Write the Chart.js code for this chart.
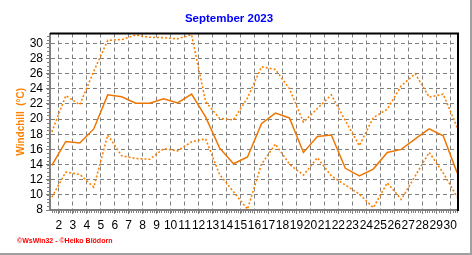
<!DOCTYPE html>
<html><head><meta charset="utf-8">
<script src="https://cdn.jsdelivr.net/npm/chart.js@4/dist/chart.umd.min.js"></script>
<style>html,body{margin:0;padding:0;background:#fff;overflow:hidden;} canvas{display:block;}</style>
</head><body><canvas id="c" width="472" height="255"></canvas>
<script>
const days = [1,2,3,4,5,6,7,8,9,10,11,12,13,14,15,16,17,18,19,20,21,22,23,24,25,26,27,28,29,30];
const maxValues  = [18.3,23.1,21.9,26.3,30.4,30.5,31.1,30.8,30.75,30.6,31.15,22.3,20.1,19.9,22.8,26.9,26.55,24.0,19.6,21.4,23.2,19.8,16.5,20.2,21.3,24.4,26.0,22.9,23.3,18.9];
const meanValues = [13.9,17.05,16.85,18.7,23.2,22.95,22.1,22.1,22.67,22.14,23.3,20.3,16.2,14.1,15.0,19.4,20.8,20.15,15.6,17.7,17.9,13.5,12.5,13.4,15.6,16.0,17.4,18.7,17.8,12.9];
const minValues  = [9.7,13.0,12.7,11.0,17.9,15.15,14.8,14.7,16.1,15.8,17.0,17.4,12.7,10.4,8.1,14.05,16.7,14.05,12.6,14.9,12.5,11.3,10.1,8.3,11.6,9.4,12.5,15.6,12.9,9.7];
const yTickLabels = [8,10,12,14,16,18,20,22,24,26,28,30];
const xTickLabels = ['2','3','4','5','6','7','8','9','10','11','12','13','14','15','16','17','18','19','20','21','22','23','24','25','26','27','28','29','30'];
const chartTitle = 'September 2023';
const yAxisTitle = 'Windchill  (°C)';
const footerText = '©WsWin32 - ©Heiko Blödorn';

const FONT = '"Liberation Sans", Arial, sans-serif';
const toPts = vals => days.map((d, i) => ({x: d, y: vals[i]}));

const decor = {
  id: 'decor',
  beforeDraw(chart) {
    const ctx = chart.ctx;
    ctx.save();
    ctx.fillStyle = '#fff';
    ctx.fillRect(0, 0, chart.width, chart.height);
    ctx.restore();
  },
  afterDraw(chart) {
    const {ctx, chartArea: a, scales: {x, y}} = chart;
    ctx.save();
    ctx.strokeStyle = '#808080';
    ctx.lineWidth = 1;
    ctx.beginPath();
    for (let k = Math.ceil((x.min + 0.5) * 6); k / 6 - 0.5 <= x.max; k++) {
      const px = Math.round(x.getPixelForValue(k / 6 - 0.5)) + 0.5;
      ctx.moveTo(px, a.bottom + 1);
      ctx.lineTo(px, a.bottom + 3);
    }
    for (let v = 8; v <= y.max; v += 0.5) {
      const py = Math.round(y.getPixelForValue(v)) + 0.5;
      ctx.moveTo(a.left - 1, py);
      ctx.lineTo(a.left - 3, py);
    }
    ctx.stroke();
    ctx.strokeStyle = '#000';
    ctx.lineWidth = 2;
    ctx.beginPath();
    ctx.moveTo(a.left, a.top);
    ctx.lineTo(a.right, a.top);
    ctx.lineTo(a.right, a.bottom + 1);
    ctx.stroke();
    ctx.fillStyle = '#FF0000';
    ctx.font = 'bold 7px ' + FONT;
    ctx.textBaseline = 'middle';
    ctx.fillText(footerText, 17, 241);
    ctx.fillStyle = '#A0A0A0';
    ctx.fillRect(470, 0, 2, 255);
    ctx.fillRect(0, 253, 472, 2);
    ctx.restore();
  }
};

new Chart(document.getElementById('c'), {
  type: 'line',
  data: {
    datasets: [
      {label: 'Max', data: toPts(maxValues), borderColor: '#FF8000', borderWidth: 1.6, borderDash: [2, 2], fill: false},
      {label: 'Mittel', data: toPts(meanValues), borderColor: '#EE7600', borderWidth: 1.5, fill: false},
      {label: 'Min', data: toPts(minValues), borderColor: '#FF8000', borderWidth: 1.6, borderDash: [2, 2], fill: false}
    ]
  },
  options: {
    responsive: false, animation: false, devicePixelRatio: 1,
    layout: {padding: {left: 0, right: 14, top: 0, bottom: 0}},
    elements: {point: {radius: 0}, line: {tension: 0}},
    plugins: {
      legend: {display: false}, tooltip: {enabled: false},
      title: {display: true, text: chartTitle, color: '#0000FF',
        font: {family: FONT, size: 11.5, weight: 'bold', lineHeight: 1.2},
        padding: {top: 12, bottom: 7.7}}
    },
    scales: {
      x: {
        type: 'linear', min: 0.87, max: 30.06,
        afterBuildTicks: s => { s.ticks = xTickLabels.map(l => ({value: Number(l) - 0.5})); },
        afterFit: s => { s.height = 45; },
        ticks: {autoSkip: false, maxRotation: 0, minRotation: 0, color: '#000', padding: 4,
          font: {family: FONT, size: 12}, callback: (v, i) => xTickLabels[i]},
        grid: {color: '#808080', lineWidth: 1, drawTicks: true, tickLength: 4, tickColor: '#808080'},
        border: {display: true, color: '#808080', width: 2, dash: [4, 3]}
      },
      y: {
        min: 8, max: 31.3,
        afterBuildTicks: s => { s.ticks = yTickLabels.map(v => ({value: v})); },
        afterFit: s => { s.width = 50; },
        ticks: {autoSkip: false, color: '#000', padding: 3, font: {family: FONT, size: 12}, callback: (v, i) => String(yTickLabels[i])},
        grid: {color: '#808080', lineWidth: 1, drawTicks: true, tickLength: 4, tickColor: '#808080'},
        border: {display: true, color: '#808080', width: 2, dash: [4, 3]},
        title: {display: true, text: yAxisTitle, color: '#FF8000',
          font: {family: FONT, size: 10, weight: 'bold'}, padding: {top: 15.7, bottom: 0}}
      }
    }
  },
  plugins: [decor]
});
</script>
</body></html>
